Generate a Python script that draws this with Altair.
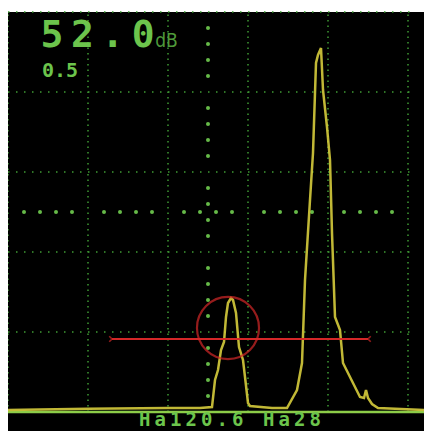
import altair as alt
import pandas as pd

# Echo envelope (x: % of screen width, y: % of screen height)
sig_x = [0, 20, 40, 48, 51, 51.75, 52.5, 53.25, 54, 54.5, 55, 55.75, 56.25, 57, 57.75,
         58.75, 59.25, 60, 60.5, 66, 69.75, 72.25, 73.5, 74.25, 75.5, 76.25, 77, 77.5,
         78.25, 78.75, 79.75, 80.5, 81, 81.75, 83, 83.75, 86.25, 88, 89, 89.5, 90, 91,
         92.5, 104]
sig_y = [0.5, 0.8, 1, 1, 1.25, 8, 10.5, 15.5, 17.5, 23.75, 27.25, 28.5, 28, 24.75, 16.25,
         13, 8.75, 2.25, 1.5, 1, 1, 5.5, 12.25, 33, 53, 64.75, 87.25, 89.25, 91, 80.5,
         71.25, 63, 44.75, 23.75, 20.5, 12.25, 7.25, 3.75, 3.5, 5.5, 3.5, 2, 1, 0.5]

grid_v = [0, 20, 40, 60, 80, 100]
grid_h = [20, 40, 60, 80, 100]
gate_start, gate_end, gate_level = 26, 90, 18.25
circle_x, circle_y = 55, 21
gain_text = ["5", "2", ".", "0"]
gain_unit = "dB"
step_text = "0.5"
readout = "Ha120.6 Ha28"

GREEN = "#6cc44c"
GRID = "#3f9a34"
YELLOW = "#d6cc3c"
RED = "#d42828"

xs = alt.Scale(domain=[0, 104], nice=False, zero=False)
ys = alt.Scale(domain=[-4.75, 100], nice=False, zero=False)

def X(f="x"):
    return alt.X(f"{f}:Q", scale=xs, axis=None)

def Y(f="y"):
    return alt.Y(f"{f}:Q", scale=ys, axis=None)

vdf = pd.DataFrame({"x": grid_v, "y": [0] * len(grid_v), "y2": [100] * len(grid_v)})
vlines = alt.Chart(vdf).mark_rule(color=GRID, strokeWidth=1.5, strokeDash=[1.5, 4]).encode(
    x=X(), y=Y(), y2="y2:Q")

hdf = pd.DataFrame({"y": grid_h, "x": [0] * len(grid_h), "x2": [102] * len(grid_h)})
hlines = alt.Chart(hdf).mark_rule(color=GRID, strokeWidth=1.5, strokeDash=[1.5, 6.5]).encode(
    y=Y(), x=X(), x2="x2:Q")

# center crosshair dots
ks = [k for k in range(1, 25) if k % 5 != 0]
dots = pd.DataFrame({
    "x": [4 * k for k in ks] + [50] * len(ks),
    "y": [50] * len(ks) + [4 * k for k in ks],
})
cdots = alt.Chart(dots).mark_circle(color=GREEN, size=16, opacity=0.95).encode(x=X(), y=Y())

base_df = pd.DataFrame({"x": [0], "x2": [104], "y": [0]})
baseline = alt.Chart(base_df).mark_rule(color="#8ccc48", strokeWidth=2.5).encode(
    x=X(), x2="x2:Q", y=Y())

sig = pd.DataFrame({"x": sig_x, "y": sig_y})
signal = alt.Chart(sig).mark_line(color=YELLOW, strokeWidth=2.5, opacity=0.9).encode(
    x=X(), y=Y(), order="x:Q")

gdf = pd.DataFrame({"x": [gate_start], "x2": [gate_end], "y": [gate_level]})
gate = alt.Chart(gdf).mark_rule(color=RED, strokeWidth=1.8).encode(x=X(), x2="x2:Q", y=Y())
gl = alt.Chart(pd.DataFrame({"x": [gate_start], "y": [gate_level]})).mark_point(
    shape="M-1,-1L0,0L-1,1", color=RED, strokeWidth=1.6, size=30, filled=False).encode(x=X(), y=Y())
gr = alt.Chart(pd.DataFrame({"x": [gate_end], "y": [gate_level]})).mark_point(
    shape="M1,-1L0,0L1,1", color=RED, strokeWidth=1.6, size=30, filled=False).encode(x=X(), y=Y())

circ = alt.Chart(pd.DataFrame({"x": [circle_x], "y": [circle_y]})).mark_point(
    shape="circle", color=RED, strokeWidth=2.2, size=3850, filled=False).encode(x=X(), y=Y())

gain_df = pd.DataFrame({"t": gain_text, "x": [11 + 7.6 * i for i in range(len(gain_text))],
                        "y": [91.25] * len(gain_text)})
gain = alt.Chart(gain_df).mark_text(font="DejaVu Sans Mono", fontWeight="bold", fontSize=38,
                                    color=GREEN, align="center", baseline="alphabetic").encode(
    x=X(), y=Y(), text="t:N")
unit = alt.Chart(pd.DataFrame({"t": [gain_unit], "x": [36.8], "y": [91.25]})).mark_text(
    font="DejaVu Sans Condensed", fontSize=19, color="#4f9a3a", align="left",
    baseline="alphabetic").encode(x=X(), y=Y(), text="t:N")
step = alt.Chart(pd.DataFrame({"t": [step_text], "x": [8.5], "y": [83.75]})).mark_text(
    font="DejaVu Sans Mono", fontWeight="bold", fontSize=20, color=GREEN, align="left",
    baseline="alphabetic").encode(x=X(), y=Y(), text="t:N")

# bottom readout, laid out one character at a time (wide LCD spacing)
read_chars = list(readout)
read_df = pd.DataFrame({"t": read_chars,
                        "x": [34.2 + 3.875 * i for i in range(len(read_chars))],
                        "y": [-3.6] * len(read_chars)})
read = alt.Chart(read_df).mark_text(
    font="DejaVu Sans Mono", fontWeight="bold", fontSize=19, color=GREEN, align="center",
    baseline="alphabetic").encode(x=X(), y=Y(), text="t:N")

chart = alt.layer(vlines, hlines, cdots, baseline, signal, gate, gl, gr, circ,
                  gain, unit, step, read).properties(
    width=416, height=419, background="white",
    padding={"left": 0, "top": 4, "right": 0, "bottom": 0},
    autosize=alt.AutoSizeParams(type="none"),
).configure_view(fill="black", stroke=None)

chart.save("out.html", embed_options={"renderer": "svg", "actions": False})
